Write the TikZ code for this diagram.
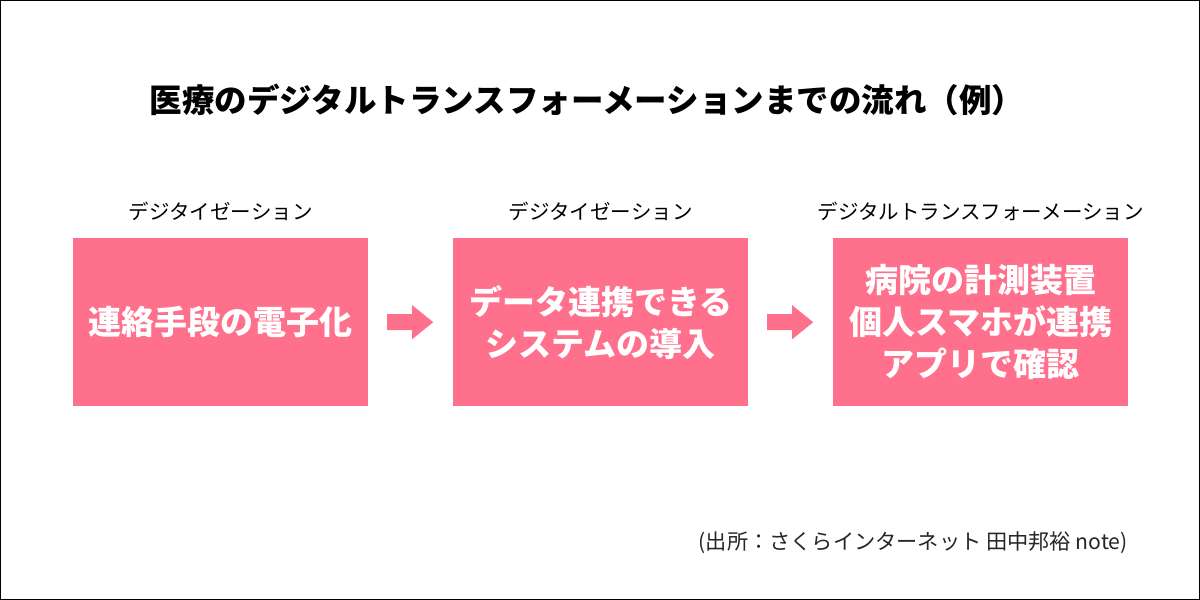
\documentclass[tikz,border=0pt]{standalone}
\usepackage{fontspec}
\setmainfont{Noto Sans CJK JP}
\usetikzlibrary{calc}
\definecolor{pinkbox}{RGB}{255,112,140}
\begin{document}
\begin{tikzpicture}[x=1pt,y=-1pt,
  stepbox/.style={fill=pinkbox,draw=none,minimum width=295pt,minimum height=168pt,inner sep=0pt,anchor=north west,text=white,font=\fontsize{33}{42}\selectfont\bfseries,align=center},
  phase/.style={font=\fontsize{20.5}{24}\selectfont,text=black,inner sep=0pt},
  blockarrow/.style={fill=pinkbox,draw=none}
]
\useasboundingbox (0,0) rectangle (1200,600);
\fill[white] (0,0) rectangle (1200,600);
\draw[black,line width=1.2pt] (0.6,0.6) rectangle (1199.4,599.4);
\node[font=\fontsize{32.5}{36}\selectfont\bfseries,inner sep=0pt] (title) at (587,100) {医療のデジタルトランスフォーメーションまでの流れ（例）};
\node[stepbox] (b1) at (73,238) {連絡手段の電子化};
\node[stepbox] (b2) at (453,238) {データ連携できる\\システムの導入};
\node[stepbox] (b3) at (833,238) {病院の計測装置\\個人スマホが連携\\アプリで確認};
\node[phase,anchor=south] (l1) at ([yshift=17pt]b1.north) {デジタイゼーション};
\node[phase,anchor=south] (l2) at ([yshift=17pt]b2.north) {デジタイゼーション};
\node[phase,anchor=south] (l3) at ([yshift=17pt]b3.north) {デジタルトランスフォーメーション};
\coordinate (m1) at ($(b1.east)!0.5!(b2.west)$);
\coordinate (m2) at ($(b2.east)!0.5!(b3.west)$);
\foreach \m in {m1,m2}{
  \fill[blockarrow] ([shift={(-23.5,-8)}]\m) -- ([shift={(1.5,-8)}]\m) -- ([shift={(1.5,-17)}]\m) -- ([shift={(22.5,0)}]\m) -- ([shift={(1.5,17)}]\m) -- ([shift={(1.5,8)}]\m) -- ([shift={(-23.5,8)}]\m) -- cycle;
}
\node[font=\fontsize{21.2}{24}\selectfont,text=black!85,inner sep=0pt,anchor=east] (src) at (1128,543) {(出所：さくらインターネット 田中邦裕 note)};
\end{tikzpicture}
\end{document}
